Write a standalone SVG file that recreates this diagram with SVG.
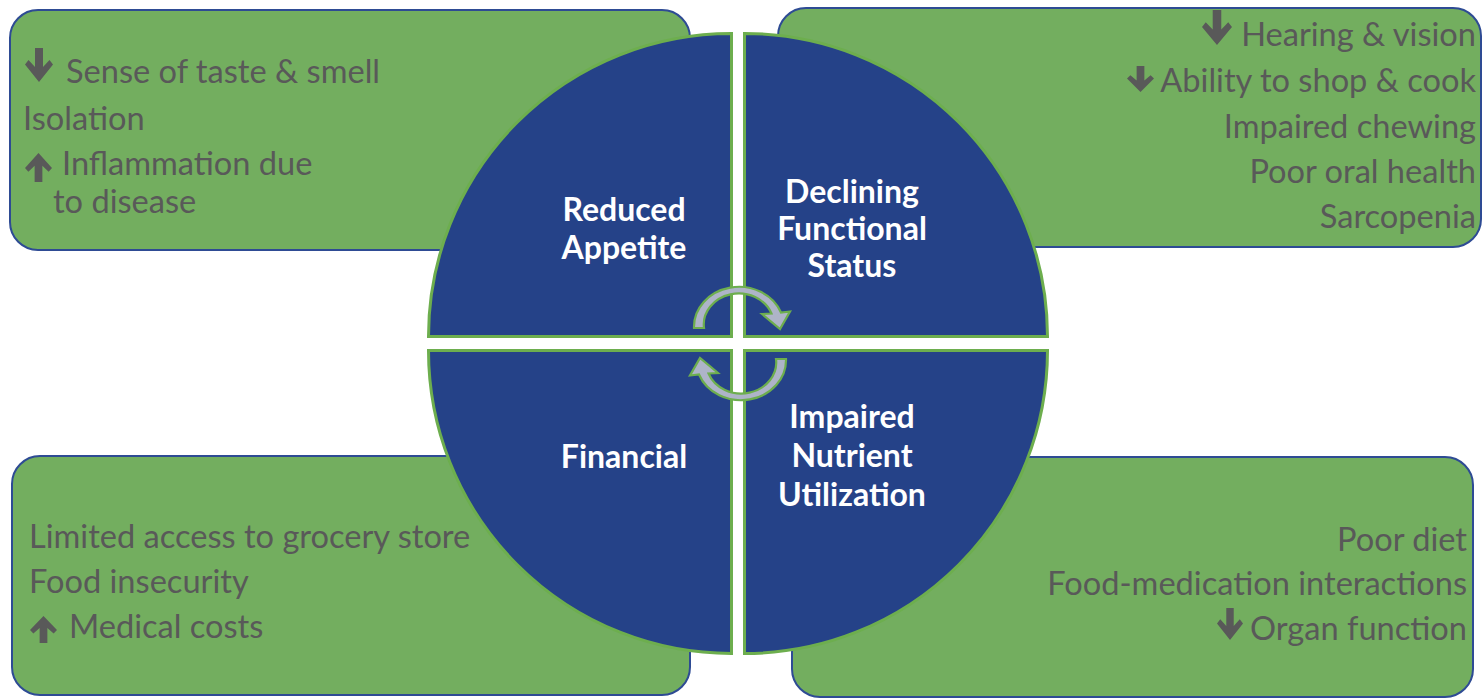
<svg xmlns="http://www.w3.org/2000/svg" xmlns:xlink="http://www.w3.org/1999/xlink" width="1483" height="698" viewBox="0 0 1483 698">
  <defs>
    <style>
      .box { fill: #73AE5F; stroke: #2E4B94; stroke-width: 2; }
      .quad { fill: #254288; stroke: #6DAE4E; stroke-width: 3; }
      .cyc { fill: #AEB4C8; stroke: #6DAE4E; stroke-width: 2.2; stroke-linejoin: miter; }
      .item { font-family: Lato, "Liberation Sans", sans-serif; font-size: 32.6px; fill: #595959; }
      .item.r { text-anchor: end; }
      .label { font-family: Lato, "Liberation Sans", sans-serif; font-size: 32px; font-weight: bold; fill: #FFFFFF; text-anchor: middle; }
      .ico { fill: #595959; }
    </style>
    <!-- heavy block arrow pointing down, 28 x 34 units -->
    <path id="dn" d="M10 0 H18 V19 L24.5 12 L28 16.5 L14 34 L0 16.5 L3.5 12 L10 19 Z"/>
    <!-- curved cycle arrow (upper half), lower one is the same rotated -->
    <path id="cycle" d="M694 328 A45 40 0 0 1 781 312.5 L790 311.5 L780 329 L762 314 L771.5 313.5 A35 31 0 0 0 704 328 Z"/>
  </defs>

  <rect width="1483" height="698" fill="#FFFFFF"/>

  <!-- factor boxes (behind the wheel) -->
  <g id="box-appetite">
    <rect class="box" x="10" y="10" width="680" height="240" rx="28" ry="28"/>
    <use xlink:href="#dn" class="ico" transform="translate(25 48)"/>
    <text class="item" x="66" y="83">Sense of taste &amp; smell</text>
    <text class="item" x="23" y="130">Isolation</text>
    <use xlink:href="#dn" class="ico" transform="translate(25 182) scale(0.964 -0.853)"/>
    <text class="item" x="62" y="175">Inflammation due</text>
    <text class="item" x="53" y="213">to disease</text>
  </g>

  <g id="box-functional">
    <rect class="box" x="778" y="8" width="703" height="239" rx="28" ry="28"/>
    <use xlink:href="#dn" class="ico" transform="translate(1202 10) scale(1.071 1.03)"/>
    <text class="item r" x="1476" y="46">Hearing &amp; vision</text>
    <use xlink:href="#dn" class="ico" transform="translate(1127 66) scale(0.964 0.765)"/>
    <text class="item r" x="1476" y="92">Ability to shop &amp; cook</text>
    <text class="item r" x="1476" y="138">Impaired chewing</text>
    <text class="item r" x="1476" y="183">Poor oral health</text>
    <text class="item r" x="1476" y="228">Sarcopenia</text>
  </g>

  <g id="box-financial">
    <rect class="box" x="12" y="456" width="678" height="239" rx="28" ry="28"/>
    <text class="item" x="29" y="548">Limited access to grocery store</text>
    <text class="item" x="29" y="593">Food insecurity</text>
    <use xlink:href="#dn" class="ico" transform="translate(30 643) scale(0.964 -0.794)"/>
    <text class="item" x="69" y="638">Medical costs</text>
  </g>

  <g id="box-nutrient">
    <rect class="box" x="792" y="457" width="681" height="240" rx="28" ry="28"/>
    <text class="item r" x="1467" y="551">Poor diet</text>
    <text class="item r" x="1467" y="595">Food-medication interactions</text>
    <use xlink:href="#dn" class="ico" transform="translate(1217 608) scale(0.929 0.941)"/>
    <text class="item r" x="1467" y="640">Organ function</text>
  </g>

  <!-- wheel quadrants -->
  <g id="reduced-appetite">
    <path class="quad" d="M731.5 336.5 H428.5 A303 303 0 0 1 731.5 33.5 Z"/>
    <text class="label" x="624" y="221">Reduced</text>
    <text class="label" x="624" y="259">Appetite</text>
  </g>

  <g id="declining-functional-status">
    <path class="quad" d="M744.5 336.5 V33.5 A303 303 0 0 1 1047.5 336.5 Z"/>
    <text class="label" x="852" y="203">Declining</text>
    <text class="label" x="852" y="240">Functional</text>
    <text class="label" x="852" y="277">Status</text>
  </g>

  <g id="impaired-nutrient-utilization">
    <path class="quad" d="M744.5 350.5 H1047.5 A303 303 0 0 1 744.5 653.5 Z"/>
    <text class="label" x="852" y="428">Impaired</text>
    <text class="label" x="852" y="467">Nutrient</text>
    <text class="label" x="852" y="506">Utilization</text>
  </g>

  <g id="financial">
    <path class="quad" d="M731.5 350.5 V653.5 A303 303 0 0 1 428.5 350.5 Z"/>
    <text class="label" x="624" y="468">Financial</text>
  </g>

  <!-- cycle connectors in the middle of the wheel -->
  <g id="connectors">
    <use xlink:href="#cycle" class="cyc"/>
    <use xlink:href="#cycle" class="cyc" transform="rotate(180 740 343.5)"/>
  </g>
</svg>
